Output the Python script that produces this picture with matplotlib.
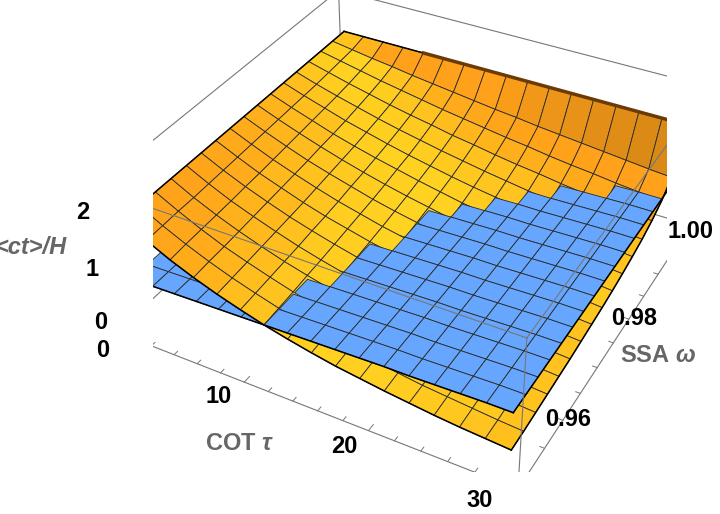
import numpy as np
import matplotlib
matplotlib.use("Agg")
import matplotlib.pyplot as plt
from mpl_toolkits.mplot3d.art3d import Poly3DCollection

plt.rcParams['font.family'] = ['Liberation Sans', 'DejaVu Sans']
plt.rcParams['mathtext.fontset'] = 'custom'
plt.rcParams['mathtext.rm'] = 'Liberation Sans:bold'
plt.rcParams['mathtext.it'] = 'Liberation Sans:italic:bold'
plt.rcParams['mathtext.bf'] = 'Liberation Sans:bold'
plt.rcParams['mathtext.default'] = 'it'

# grid of the mesh (16 x 16 cells)
tau = np.linspace(0, 30, 17)
omega = np.linspace(0.95, 1.0, 17)

# orange surface <ct>/H, one row per omega value, columns follow tau
ct_orange = np.array([
    [1.80, 1.57, 1.37, 1.20, 1.05, 0.92, 0.80, 0.70, 0.61, 0.53, 0.47, 0.41, 0.36, 0.31, 0.27, 0.24, 0.21],
    [1.80, 1.58, 1.39, 1.22, 1.07, 0.94, 0.82, 0.72, 0.63, 0.55, 0.49, 0.43, 0.37, 0.33, 0.29, 0.25, 0.22],
    [1.80, 1.59, 1.40, 1.23, 1.09, 0.96, 0.84, 0.74, 0.65, 0.58, 0.51, 0.45, 0.39, 0.35, 0.31, 0.27, 0.24],
    [1.80, 1.59, 1.41, 1.25, 1.11, 0.98, 0.87, 0.77, 0.68, 0.60, 0.53, 0.47, 0.42, 0.37, 0.33, 0.29, 0.26],
    [1.80, 1.60, 1.42, 1.27, 1.13, 1.00, 0.89, 0.79, 0.71, 0.63, 0.56, 0.50, 0.44, 0.39, 0.35, 0.31, 0.28],
    [1.80, 1.61, 1.44, 1.29, 1.15, 1.03, 0.92, 0.82, 0.73, 0.66, 0.59, 0.52, 0.47, 0.42, 0.37, 0.33, 0.30],
    [1.80, 1.62, 1.45, 1.31, 1.17, 1.05, 0.95, 0.85, 0.77, 0.69, 0.62, 0.56, 0.50, 0.45, 0.40, 0.36, 0.33],
    [1.80, 1.63, 1.47, 1.33, 1.20, 1.08, 0.98, 0.88, 0.80, 0.72, 0.65, 0.59, 0.53, 0.48, 0.44, 0.39, 0.36],
    [1.80, 1.64, 1.49, 1.35, 1.23, 1.12, 1.01, 0.92, 0.84, 0.76, 0.69, 0.63, 0.57, 0.52, 0.47, 0.43, 0.39],
    [1.80, 1.65, 1.51, 1.38, 1.26, 1.15, 1.05, 0.96, 0.88, 0.80, 0.74, 0.67, 0.62, 0.56, 0.51, 0.47, 0.43],
    [1.80, 1.66, 1.53, 1.40, 1.29, 1.19, 1.10, 1.01, 0.93, 0.85, 0.79, 0.72, 0.67, 0.61, 0.56, 0.52, 0.48],
    [1.80, 1.67, 1.55, 1.43, 1.33, 1.23, 1.14, 1.06, 0.98, 0.91, 0.85, 0.78, 0.73, 0.67, 0.62, 0.58, 0.54],
    [1.80, 1.68, 1.57, 1.47, 1.37, 1.28, 1.20, 1.12, 1.05, 0.98, 0.92, 0.86, 0.80, 0.75, 0.70, 0.65, 0.61],
    [1.80, 1.70, 1.60, 1.51, 1.42, 1.34, 1.27, 1.19, 1.13, 1.06, 1.00, 0.95, 0.89, 0.84, 0.79, 0.75, 0.71],
    [1.80, 1.72, 1.64, 1.56, 1.49, 1.42, 1.35, 1.29, 1.23, 1.17, 1.12, 1.06, 1.01, 0.97, 0.92, 0.88, 0.84],
    [1.80, 1.74, 1.68, 1.63, 1.57, 1.52, 1.47, 1.42, 1.37, 1.33, 1.28, 1.24, 1.20, 1.16, 1.12, 1.08, 1.05],
    [1.80, 1.80, 1.80, 1.80, 1.80, 1.80, 1.80, 1.80, 1.80, 1.80, 1.80, 1.80, 1.80, 1.80, 1.80, 1.80, 1.80],
])

# blue surface, nearly flat: value per tau column (same for every omega)
ct_blue_tau = [0.74, 0.75, 0.76, 0.77, 0.78, 0.79, 0.80, 0.81, 0.82,
               0.83, 0.84, 0.85, 0.85, 0.86, 0.87, 0.88, 0.88]

tau_ticks = [0, 10, 20, 30]
omega_ticks = [0.96, 0.98, 1.00]
omega_labels = ['0.96', '0.98', '1.00']
z_ticks = [0, 1, 2]

# view (Mathematica default view point), box ratios 1:1:0.4
elev, azim = 36.2, -61.6
lims = np.array([[-1.1, 31.1], [0.9481, 1.0019], [-0.19, 2.41]])
aspect = np.array([1.0, 1.0, 0.4])

fig = plt.figure(figsize=(7.2, 5.14), dpi=100)
ax = fig.add_axes([0.0694, 0.0817, 1.0, 1.0], projection='3d')
ax.computed_zorder = False
ax.set_proj_type('persp', focal_length=0.531)
ax.view_init(elev=elev, azim=azim)
ax.set_box_aspect(aspect, zoom=1.2126)
ax.set_xlim(*lims[0])
ax.set_ylim(*lims[1])
ax.set_zlim(*lims[2])
ax.set_xticks([])
ax.set_yticks([])
ax.set_zticks([])
ax.set_axis_off()

# camera vectors to shade the facets
a, e = np.radians(azim), np.radians(elev)
cam_r = np.array([-np.sin(a), np.cos(a), 0.0])
cam_u = np.array([-np.sin(e) * np.cos(a), -np.sin(e) * np.sin(a), np.cos(e)])
cam_v = np.array([np.cos(e) * np.cos(a), np.cos(e) * np.sin(a), np.sin(e)])
span = lims[:, 1] - lims[:, 0]

def quads(Z):
    verts, normals = [], []
    for k in range(len(omega) - 1):
        for j in range(len(tau) - 1):
            q = np.array([
                [tau[j], omega[k], Z[k, j]],
                [tau[j + 1], omega[k], Z[k, j + 1]],
                [tau[j + 1], omega[k + 1], Z[k + 1, j + 1]],
                [tau[j], omega[k + 1], Z[k + 1, j]],
            ])
            verts.append(q)
            b = (q - lims[:, 0]) / span * aspect
            n = np.cross(b[2] - b[0], b[3] - b[1])
            n = n / np.linalg.norm(n)
            if n[2] < 0:
                n = -n
            normals.append(n)
    return verts, np.array(normals)

orange_verts, orange_n = quads(ct_orange)
blue_Z = np.tile(ct_blue_tau, (len(omega), 1))
blue_verts, blue_n = quads(blue_Z)

yellow = np.array([1.0, 0.83, 0.13])
orange = np.array([1.0, 0.63, 0.10])
ncam = np.stack([orange_n @ cam_r, orange_n @ cam_u, orange_n @ cam_v], axis=1)
d2 = np.sum((ncam - np.array([0.13, 0.69, 0.71])) ** 2, axis=1)
w = np.exp(-d2 / 0.035)
orange_fc = orange + w[:, None] * (yellow - orange)
dark = np.clip(1 + 0.6 * (ncam[:, 1] - 0.15), 0.75, 1.0)
orange_fc = np.clip(orange_fc * dark[:, None], 0, 1)
blue_fc = np.tile(np.array([0.40, 0.65, 1.0]), (len(blue_verts), 1))

# hidden box edges (behind the surfaces)
x0, x1 = lims[0]
y0, y1 = lims[1]
z0, z1 = lims[2]
box_kw = dict(color='#777777', lw=0.8)
for p, q in [((x0, y1, z0), (x1, y1, z0)), ((x0, y1, z0), (x0, y0, z0)),
             ((x0, y1, z0), (x0, y1, z1))]:
    ax.plot(*zip(p, q), zorder=1, **box_kw)

surf = Poly3DCollection(orange_verts + blue_verts,
                        facecolors=np.vstack([orange_fc, blue_fc]),
                        edgecolors='#2a2a2a', linewidths=0.6)
surf.set_zorder(2)
ax.add_collection3d(surf)

# outline of the surfaces
edge_kw = dict(color='black', lw=1.1, zorder=3)
ax.plot(tau, np.full(17, omega[0]), ct_orange[0], **edge_kw)
ax.plot(tau, np.full(17, omega[-1]), ct_orange[-1], **edge_kw)
ax.plot(np.full(17, tau[0]), omega, ct_orange[:, 0], **edge_kw)
ax.plot(np.full(17, tau[-1]), omega, ct_orange[:, -1], **edge_kw)
ax.plot(tau, np.full(17, omega[0]), blue_Z[0], **edge_kw)
ax.plot(np.full(17, tau[-1]), omega, blue_Z[:, -1], **edge_kw)
# dark rim where the surface turns steeply near omega = 1
ax.plot(tau[4:], np.full(13, omega[-1]), ct_orange[-1, 4:], color='#6b3a05',
        lw=2.5, zorder=3)

# front box edges
front = [((x0, y0, z0), (x1, y0, z0)), ((x1, y0, z0), (x1, y1, z0)),
         ((x0, y0, z1), (x1, y0, z1)), ((x1, y0, z1), (x1, y1, z1)),
         ((x1, y1, z1), (x0, y1, z1)), ((x0, y1, z1), (x0, y0, z1)),
         ((x0, y0, z0), (x0, y0, z1)), ((x1, y0, z0), (x1, y0, z1)),
         ((x1, y1, z0), (x1, y1, z1))]
for p, q in front:
    ax.plot(*zip(p, q), zorder=4, **box_kw)

# tick marks
tick_kw = dict(color='#777777', lw=0.7, zorder=4)
for t in np.arange(0, 31, 2):
    L = 0.0011 if t % 10 == 0 else 0.0007
    ax.plot([t, t], [y0, y0 + L], [z0, z0], **tick_kw)
for o in np.arange(0.95, 1.0001, 0.005):
    L = 0.55 if round(o * 1000) % 20 == 0 else 0.35
    ax.plot([x1, x1 - L], [o, o], [z0, z0], **tick_kw)
for zz in np.arange(0, 2.41, 0.2):
    L = 0.55 if abs(zz - round(zz)) < 1e-6 else 0.35
    ax.plot([x0, x0 + L], [y0, y0], [zz, zz], **tick_kw)

# tick labels
lab_kw = dict(fontsize=17, fontweight='bold', color='black', ha='center', va='center', zorder=5)
for t in tau_ticks:
    ax.text(t - 0.45, y0 - 0.004, z0 + 0.08, str(t), **lab_kw)
for o, s in zip(omega_ticks, omega_labels):
    ax.text(x1 + 0.4, o, z0 + 0.05, s, **lab_kw)
for zz in z_ticks:
    ax.text(x0 - 0.9, y0 - 0.0009, zz, str(zz), **lab_kw)

# axis labels
ax_kw = dict(fontsize=17, fontweight='bold', color='#666666', ha='center', va='center', zorder=5)
ax.text(13.5, y0 - 0.0095, z0 + 0.15, r'COT $\tau$', **ax_kw)
ax.text(x1 + 3.4, 0.975, z0 + 0.05, r'SSA $\omega$', **ax_kw)
ax.text(x0 - 4.3, y0 - 0.0043, 1.41, '<ct>/H', fontstyle='italic', **ax_kw)

fig.savefig('out.png', dpi=100)
